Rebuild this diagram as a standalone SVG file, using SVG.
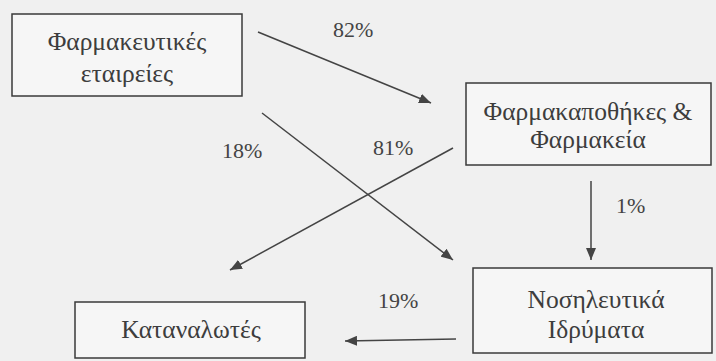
<svg xmlns="http://www.w3.org/2000/svg" width="716" height="361" viewBox="0 0 716 361">
<defs>
<marker id="ah" viewBox="0 0 12 10" refX="12" refY="5" markerWidth="12" markerHeight="10" markerUnits="userSpaceOnUse" orient="auto">
<path d="M0,0 L12,5 L0,10 Z" fill="#444"/>
</marker>
</defs>
<style>
.box{fill:#f6f6f6;stroke:#3a3a3a;stroke-width:1.5}
text{font-family:'Liberation Serif','Times New Roman',serif}
.t{font-size:25.5px;fill:#3d3d3d;text-anchor:middle}
.p{font-size:22px;fill:#444}
.c{stroke:#444;stroke-width:1.5;fill:none;marker-end:url(#ah)}
</style>
<rect width="716" height="361" fill="#f0f0f0"/>
<g id="connectors">
<line class="c" x1="258" y1="32" x2="431" y2="103"/>
<line class="c" x1="262" y1="113" x2="453" y2="260"/>
<line class="c" x1="453" y1="148" x2="230" y2="270"/>
<line class="c" x1="591" y1="181" x2="591" y2="260"/>
<line class="c" x1="456" y1="339" x2="345" y2="341"/>
<text class="p" x="333" y="37">82%</text>
<text class="p" x="222" y="158">18%</text>
<text class="p" x="373" y="155">81%</text>
<text class="p" x="616" y="213">1%</text>
<text class="p" x="378" y="308">19%</text>
</g>
<g id="n1">
<rect class="box" x="12" y="14" width="230" height="82"/>
<text class="t" x="127" y="50">Φαρμακευτικές</text>
<text class="t" x="127" y="82">εταιρείες</text>
</g>
<g id="n2">
<rect class="box" x="466" y="83" width="245" height="82"/>
<text class="t" x="588" y="120">Φαρμακαποθήκες &amp;</text>
<text class="t" x="588" y="148">Φαρμακεία</text>
</g>
<g id="n3">
<rect class="box" x="75" y="302" width="230" height="56"/>
<text class="t" x="191" y="338">Καταναλωτές</text>
</g>
<g id="n4">
<rect class="box" x="473" y="268" width="239" height="85"/>
<text class="t" x="596" y="308">Νοσηλευτικά</text>
<text class="t" x="596" y="338">Ιδρύματα</text>
</g>
</svg>
